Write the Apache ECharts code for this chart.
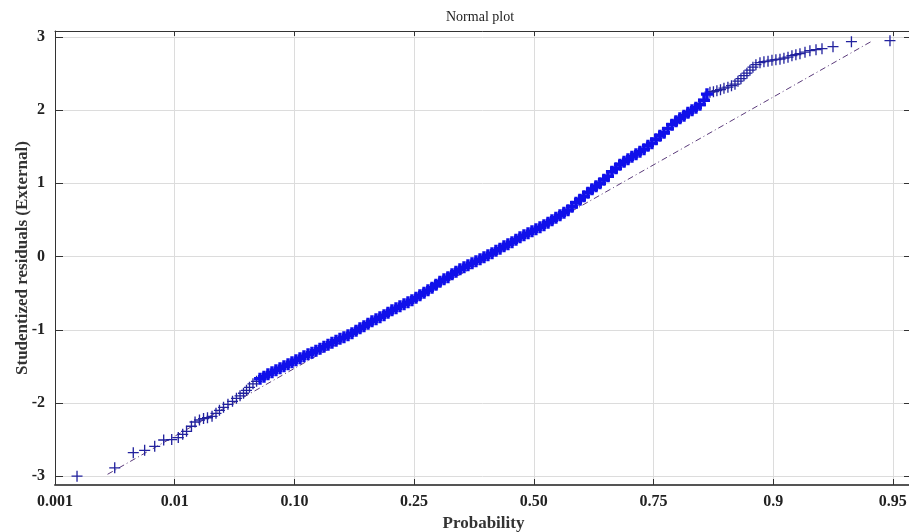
<!DOCTYPE html>
<html>
<head>
<meta charset="utf-8">
<script src="https://cdn.jsdelivr.net/npm/echarts@6/dist/echarts.min.js"></script>
<style>html,body{margin:0;padding:0;background:#fff;}#chart{width:909px;height:532px;}</style>
</head>
<body>
<div id="chart"></div>
<script>
// Tick labels of the probability axis (equally spaced positions 0..7)
var probTickLabels = ['0.001', '0.01', '0.10', '0.25', '0.50', '0.75', '0.9', '0.95'];
var residualTicks = [-3, -2, -1, 0, 1, 2, 3];

// Lower tail points: position on probability axis, studentized residual
var lowerTailPos = [
  0.184, 0.499, 0.654, 0.749, 0.833, 0.908, 0.975, 1.030, 1.067, 1.099,
  1.140, 1.170, 1.207, 1.241, 1.274, 1.312, 1.345, 1.374, 1.408, 1.445,
  1.483, 1.516, 1.546, 1.575, 1.600, 1.625, 1.654, 1.684
];
var lowerTailRes = [
  -3.000, -2.885, -2.678, -2.646, -2.592, -2.505, -2.500, -2.473, -2.428, -2.387,
  -2.318, -2.260, -2.232, -2.213, -2.202, -2.182, -2.141, -2.100, -2.059, -2.018,
  -1.977, -1.936, -1.902, -1.867, -1.827, -1.786, -1.738, -1.704
];

// Dense central band
var bandPos = [
  1.713, 1.746, 1.779, 1.813, 1.846, 1.880, 1.913, 1.947, 1.980, 2.013,
  2.047, 2.080, 2.114, 2.147, 2.180, 2.214, 2.247, 2.281, 2.314, 2.348,
  2.381, 2.414, 2.448, 2.481, 2.515, 2.548, 2.581, 2.615, 2.648, 2.682,
  2.715, 2.749, 2.782, 2.815, 2.849, 2.882, 2.916, 2.949, 2.982, 3.016,
  3.049, 3.083, 3.116, 3.150, 3.183, 3.216, 3.250, 3.283, 3.317, 3.350,
  3.383, 3.417, 3.450, 3.484, 3.517, 3.551, 3.584, 3.617, 3.651, 3.684,
  3.718, 3.751, 3.784, 3.818, 3.851, 3.885, 3.918, 3.952, 3.985, 4.018,
  4.052, 4.085, 4.119, 4.152, 4.185, 4.219, 4.252, 4.286, 4.319, 4.353,
  4.386, 4.419, 4.453, 4.486, 4.520, 4.553, 4.586, 4.620, 4.653, 4.687,
  4.720, 4.754, 4.787, 4.820, 4.854, 4.887, 4.921, 4.954, 4.987, 5.021,
  5.054, 5.088, 5.121, 5.155, 5.188, 5.221, 5.255, 5.288, 5.322, 5.355,
  5.388, 5.422, 5.447
];
var bandRes = [
  -1.669, -1.642, -1.608, -1.581, -1.553, -1.526, -1.499, -1.471, -1.444, -1.417,
  -1.389, -1.362, -1.335, -1.314, -1.287, -1.260, -1.232, -1.205, -1.178, -1.150,
  -1.123, -1.102, -1.075, -1.048, -1.014, -0.980, -0.952, -0.918, -0.884, -0.857,
  -0.829, -0.802, -0.768, -0.734, -0.706, -0.679, -0.652, -0.624, -0.597, -0.563,
  -0.529, -0.495, -0.460, -0.426, -0.385, -0.344, -0.310, -0.283, -0.242, -0.208,
  -0.173, -0.146, -0.119, -0.092, -0.064, -0.037, -0.010, 0.018, 0.045, 0.079,
  0.107, 0.141, 0.168, 0.195, 0.230, 0.264, 0.291, 0.318, 0.346, 0.373,
  0.400, 0.428, 0.462, 0.496, 0.530, 0.564, 0.598, 0.633, 0.680, 0.735,
  0.776, 0.824, 0.872, 0.919, 0.960, 1.001, 1.049, 1.097, 1.158, 1.206,
  1.254, 1.295, 1.329, 1.363, 1.398, 1.432, 1.466, 1.514, 1.548, 1.602,
  1.650, 1.691, 1.746, 1.801, 1.848, 1.889, 1.923, 1.964, 1.999, 2.033,
  2.074, 2.135, 2.217
];

// Upper tail points
var upperTailPos = [
  5.472, 5.501, 5.530, 5.560, 5.589, 5.622, 5.652, 5.681, 5.706, 5.731,
  5.756, 5.781, 5.806, 5.831, 5.856, 5.890, 5.923, 5.957, 5.990, 6.023,
  6.057, 6.090, 6.124, 6.157, 6.190, 6.224, 6.266, 6.307, 6.358, 6.408,
  6.500, 6.654, 6.976
];
var upperTailRes = [
  2.245, 2.251, 2.265, 2.279, 2.299, 2.313, 2.333, 2.354, 2.395, 2.429,
  2.470, 2.504, 2.545, 2.586, 2.620, 2.648, 2.661, 2.668, 2.682, 2.689,
  2.695, 2.709, 2.723, 2.743, 2.757, 2.770, 2.791, 2.811, 2.825, 2.839,
  2.866, 2.934, 2.948
];

// Reference (fitted normal) line end points
var refLineX = [0.439, 6.823];
var refLineY = [-2.974, 2.940];

var serif = '"Liberation Serif", "DejaVu Serif", serif';
function pairs(xs, ys) { return xs.map(function (x, i) { return [x, ys[i]]; }); }
var thinPlus = 'path://M4.4,0h1.2v4.4h4.4v1.2h-4.4v4.4h-1.2v-4.4h-4.4v-1.2h4.4z';
var thickPlus = 'path://M3.6,0h2.8v3.6h3.6v2.8h-3.6v3.6h-2.8v-3.6h-3.6v-2.8h3.6z';

var chart = echarts.init(document.getElementById('chart'), null, {renderer: 'canvas'});
chart.setOption({
  animation: false,
  backgroundColor: '#ffffff',
  title: {
    text: 'Normal plot',
    left: 441, top: 5,
    textStyle: {fontFamily: serif, fontWeight: 'normal', fontSize: 14, color: '#222'}
  },
  grid: {left: 55, right: -3, top: 31, bottom: 47, outerBoundsMode: 'none', containLabel: false},
  xAxis: [{
    type: 'value', position: 'bottom', min: 0, max: 7.16, interval: 1,
    name: 'Probability', nameLocation: 'middle', nameGap: 30, nameMoveOverlap: false,
    nameTextStyle: {fontFamily: serif, fontWeight: 'bold', fontSize: 17, color: '#333'},
    axisLine: {show: true, onZero: false, lineStyle: {color: '#555', width: 2}},
    axisTick: {show: true, inside: true, length: 6, lineStyle: {color: '#333'}},
    axisLabel: {
      margin: 9, fontFamily: serif, fontWeight: 'bold', fontSize: 16, color: '#222',
      formatter: function (v) { var i = Math.round(v); return Math.abs(v - i) < 1e-6 && probTickLabels[i] ? probTickLabels[i] : ''; }
    },
    splitLine: {show: true, lineStyle: {color: '#dcdcdc', width: 1}}
  }, {
    type: 'value', position: 'top', min: 0, max: 7.16, interval: 1,
    axisLine: {show: true, onZero: false, lineStyle: {color: '#333', width: 1}},
    axisTick: {show: true, inside: true, length: 5, lineStyle: {color: '#333'}},
    axisLabel: {show: false}, splitLine: {show: false}
  }],
  yAxis: [{
    type: 'value', position: 'left', min: -3.12, max: 3.08,
    name: 'Studentized residuals (External)', nameLocation: 'middle', nameGap: 24, nameMoveOverlap: false,
    nameTextStyle: {fontFamily: serif, fontWeight: 'bold', fontSize: 17, color: '#333'},
    axisLine: {show: true, onZero: false, lineStyle: {color: '#333', width: 1}},
    axisTick: {show: true, inside: true, length: 8, customValues: residualTicks, lineStyle: {color: '#333'}},
    axisLabel: {margin: 10, customValues: residualTicks, fontFamily: serif, fontWeight: 'bold', fontSize: 16, color: '#222'},
    splitLine: {show: true, lineStyle: {color: '#dcdcdc', width: 1}}
  }, {
    type: 'value', position: 'right', min: -3.12, max: 3.08,
    axisLine: {show: true, onZero: false, lineStyle: {color: '#333', width: 1}},
    axisTick: {show: true, inside: true, length: 8, customValues: residualTicks, lineStyle: {color: '#333'}},
    axisLabel: {show: false}, splitLine: {show: false}
  }],
  series: [{
    type: 'line', data: pairs(refLineX, refLineY), z: 1,
    symbol: 'none', silent: true,
    lineStyle: {color: '#5b3b7b', width: 1, type: [6, 3, 1, 3]}
  }, {
    type: 'scatter', data: pairs(lowerTailPos, lowerTailRes), z: 2,
    symbol: thinPlus, symbolSize: 11,
    itemStyle: {color: '#22229e', opacity: 1}
  }, {
    type: 'scatter', data: pairs(bandPos, bandRes), z: 3,
    symbol: thickPlus, symbolSize: 12,
    itemStyle: {color: '#1010ea', opacity: 1}
  }, {
    type: 'scatter', data: pairs(upperTailPos, upperTailRes), z: 2,
    symbol: thinPlus, symbolSize: 11,
    itemStyle: {color: '#22229e', opacity: 1}
  }]
});
</script>
</body>
</html>
